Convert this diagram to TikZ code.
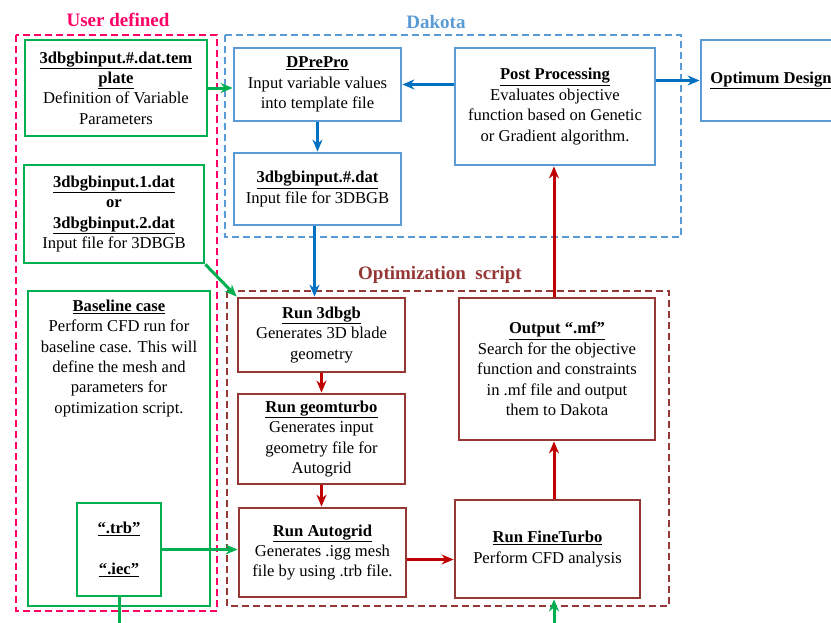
\documentclass[tikz,border=0pt]{standalone}
\usepackage{fontspec}
\setmainfont{Liberation Serif}
\usetikzlibrary{arrows.meta,positioning}
\definecolor{usrpink}{HTML}{FF0066}
\definecolor{dakblue}{HTML}{5B9BD5}
\definecolor{arrblue}{HTML}{0070C0}
\definecolor{grn}{HTML}{00B050}
\definecolor{optred}{HTML}{953735}
\definecolor{arrred}{HTML}{C00000}
\newcommand\boxtitle[1]{\textbf{\underline{#1}}}

\begin{document}
\begin{tikzpicture}[x=1pt,y=-1pt,>=Stealth,font=\fontsize{16.6}{20.4}\selectfont,
  box/.style={rectangle,fill=white,line width=2.8pt,align=center,inner sep=2pt},
  gbox/.style={box,draw=grn},
  bbox/.style={box,draw=dakblue},
  rbox/.style={box,draw=optred},
  group/.style={dash pattern=on 7pt off 4pt,line width=2.3pt},
  grouplabel/.style={font=\fontsize{19}{21}\selectfont\bfseries},
  tip/.style={-{Stealth[length=12pt,width=10pt]}},
  garrow/.style={tip,draw=grn,line width=3pt},
  barrow/.style={tip,draw=arrblue,line width=3pt},
  rarrow/.style={tip,draw=arrred,line width=3pt}]
\useasboundingbox (0,0) rectangle (831,622);
\clip (0,0) rectangle (831,622);

% groups
\draw[group,draw=usrpink] (16,35) rectangle (217,611);
\draw[group,draw=dakblue] (225,35) rectangle (681,237);
\draw[group,draw=optred] (227,291) rectangle (669,606);
\node[grouplabel,text=usrpink] (userlbl) at (118,20) {User defined};
\node[grouplabel,text=dakblue] (dakotalbl) at (436,22) {Dakota};
\node[grouplabel,text=optred] (optlbl) at (440,275) {Optimization\ \ script};

% user defined
\node[gbox,minimum width=182,minimum height=96] (tmpl) at (116,88) {\boxtitle{3dbgbinput.\#.dat.tem}\\\boxtitle{plate}\\Definition\ of Variable\\Parameters};
\node[gbox,minimum width=180,minimum height=98] (inputdat) at (114,214) {\boxtitle{3dbgbinput.1.dat}\\\textbf{or}\\\boxtitle{3dbgbinput.2.dat}\\Input file for 3DBGB};
\node[gbox,minimum width=182,minimum height=315] (baseline) at (119,448.5) {};
\node[align=center,anchor=north,inner sep=0pt] (baselinetxt) at ([yshift=-10pt]baseline.north) {\boxtitle{Baseline case}\\Perform CFD run for\\baseline case. This will\\define the mesh and\\parameters for\\optimization script.};
\node[gbox,minimum width=84,minimum height=93] (trbiec) at (119,549.5) {\boxtitle{“.trb”}\\[20.4pt]\boxtitle{“.iec”}};

% dakota
\node[bbox,minimum width=167,minimum height=73] (dprepro) at (317.5,84.5) {\boxtitle{DPrePro}\\Input variable values\\into template file};
\node[bbox,minimum width=167,minimum height=72] (datfile) at (317.5,189) {\boxtitle{3dbgbinput.\#.dat}\\Input file for 3DBGB};
\node[bbox,minimum width=200,minimum height=117] (post) at (555,106.5) {\boxtitle{Post Processing}\\Evaluates objective\\function based on Genetic\\or Gradient algorithm.};
\node[bbox,minimum width=140,minimum height=81] (optimum) at (771,80.5) {\boxtitle{Optimum\ Design}};

% optimization script
\node[rbox,minimum width=167,minimum height=74] (run3dbgb) at (321.5,335) {\boxtitle{Run 3dbgb}\\Generates 3D blade\\geometry};
\node[rbox,minimum width=167,minimum height=90] (geomturbo) at (321.5,439) {\boxtitle{Run geomturbo}\\Generates input\\geometry file for\\Autogrid};
\node[rbox,minimum width=167,minimum height=89] (autogrid) at (322.5,552.5) {\boxtitle{Run Autogrid}\\Generates .igg mesh\\file by using .trb file.};
\node[rbox,minimum width=196,minimum height=142] (output) at (557,369) {\boxtitle{Output “.mf”}\\Search for the objective\\function and constraints\\in .mf file and output\\them to Dakota};
\node[rbox,minimum width=185,minimum height=98] (fineturbo) at (547.5,549) {\boxtitle{Run FineTurbo}\\Perform CFD analysis};

% connectors
\draw[garrow] (tmpl.east) -- (tmpl.east -| dprepro.west);
\draw[barrow] (post.west |- dprepro.east) -- (dprepro.east);
\draw[barrow] (post.east |- optimum.west) -- (optimum.west);
\draw[barrow] (dprepro) -- (datfile);
\draw[barrow] ([xshift=-3pt]datfile.south) -- ([xshift=-3pt]datfile.south |- run3dbgb.north);
\draw[garrow] (inputdat.south east) -- (run3dbgb.north west);
\draw[rarrow] (run3dbgb.south) -- (run3dbgb.south |- geomturbo.north);
\draw[rarrow] (geomturbo.south) -- (geomturbo.south |- autogrid.north);
\draw[rarrow] ([yshift=-7pt]autogrid.east) -- ([yshift=-7pt]autogrid.east -| fineturbo.west);
\draw[garrow] (trbiec.east) -- (trbiec.east -| autogrid.west);
\draw[rarrow] ([xshift=-3pt]output.south |- fineturbo.north) -- ([xshift=-3pt]output.south);
\draw[rarrow] ([xshift=-3pt]output.north) -- ([xshift=-3pt]output.north |- post.south);
\coordinate (bottom) at (554,650);
\draw[garrow] (trbiec.south) |- (bottom) -- (bottom |- fineturbo.south);
\end{tikzpicture}
\end{document}
